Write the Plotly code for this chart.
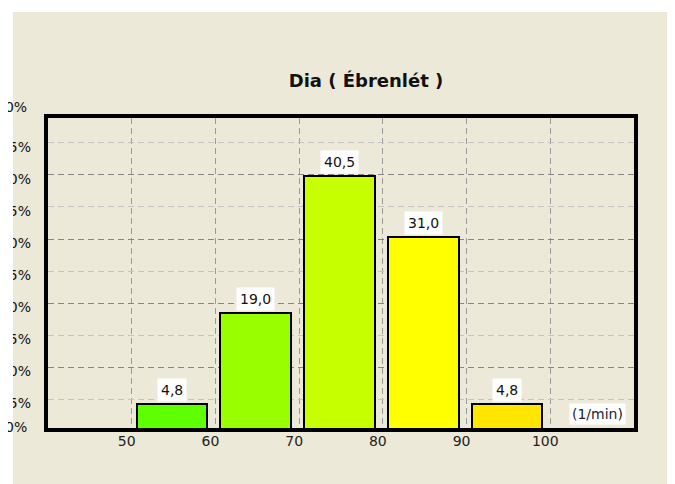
import plotly.graph_objects as go

# ---------------- data ----------------
bin_starts = [50, 60, 70, 80, 90]
percent_values = [4.8, 19.0, 40.5, 31.0, 4.8]
value_labels = ["4,8", "19,0", "40,5", "31,0", "4,8"]
bar_colors = ["#5EFF00", "#99FF00", "#C6FF00", "#FFFF00", "#FFE500"]
x_tick_values = [50, 60, 70, 80, 90, 100]
y_tick_values = [0, 5, 10, 15, 20, 25, 30, 35, 40, 45, 50]
y_tick_labels = ["0%", "5%", "10%", "15%", "20%", "25%", "30%", "35%", "40%", "45%", "50%"]
y_major_values = [10, 20, 30, 40]
title_text = "Dia ( Ébrenlét )"
x_unit_label = "(1/min)"

# ---------------- geometry / style ----------------
OFF = 8  # default page margin around the figure
W, H = 675 - OFF, 484 - OFF
# plot area in page pixels: x 48..634, y 118..428
L, R, T, B = 48 - OFF, W - (634 - OFF), 118 - OFF, H - (428 - OFF)
PW, PH = W - L - R, H - T - B
BG = "#ECE9D8"
FONT = "DejaVu Sans"
bar_offset = 0.6
bar_width = 8.45

bar_range = [1.02, 49.6]
grid_range = [0.51, 48.88]
in_range = [v for v in y_tick_values if grid_range[0] <= v <= grid_range[1]]


def px_x(p):
    """page pixel x -> paper coordinate"""
    return (p - OFF - L) / PW


def px_y(p):
    """page pixel y -> paper coordinate"""
    return (H - B - (p - OFF)) / PH


fig = go.Figure()
fig.add_trace(go.Bar(
    x=bin_starts, y=percent_values,
    offset=bar_offset, width=bar_width,
    marker=dict(color=bar_colors, line=dict(color="black", width=2)),
    hoverinfo="skip", showlegend=False,
))
# empty traces so the overlay grid axes are built
fig.add_trace(go.Scatter(x=[], y=[], yaxis="y2", showlegend=False))
fig.add_trace(go.Scatter(x=[], y=[], yaxis="y3", showlegend=False))

annotations = []
for xs, v, lab in zip(bin_starts, percent_values, value_labels):
    annotations.append(dict(
        x=xs + bar_offset + bar_width / 2, y=v, xref="x", yref="y",
        text=lab, showarrow=False, yanchor="bottom", yshift=2,
        bgcolor="white", borderpad=3,
        font=dict(family=FONT, size=14, color="#111"),
    ))
# y labels that fall outside the visible grid range (placed via the grid scale)
for v, lab in zip(y_tick_values, y_tick_labels):
    if v not in in_range:
        annotations.append(dict(
            x=0, y=(v - grid_range[0]) / (grid_range[1] - grid_range[0]),
            xref="paper", yref="paper", text=lab, showarrow=False,
            xanchor="right", yanchor="middle", xshift=-19, yshift=4,
            font=dict(family=FONT, size=14, color="#111"),
        ))
annotations.append(dict(
    x=1, y=0, xref="paper", yref="paper", text=x_unit_label, showarrow=False,
    xanchor="right", yanchor="bottom", xshift=-8, yshift=3,
    bgcolor="white", borderpad=2,
    font=dict(family=FONT, size=14, color="#223"),
))

shapes = [
    # white borders of the cropped screenshot
    dict(type="rect", xref="paper", yref="paper", layer="above",
         x0=-1, x1=px_x(13), y0=-1, y1=2, fillcolor="white", line_width=0),
    dict(type="rect", xref="paper", yref="paper", layer="above",
         x0=-1, x1=2, y0=px_y(12), y1=2, fillcolor="white", line_width=0),
    dict(type="rect", xref="paper", yref="paper", layer="above",
         x0=px_x(670), x1=2, y0=-1, y1=2, fillcolor="white", line_width=0),
    dict(type="line", xref="paper", yref="paper", layer="above",
         x0=px_x(669.5), x1=px_x(669.5), y0=-1, y1=px_y(12),
         line=dict(color="#A8A8A8", width=1)),
]

fig.update_layout(
    width=W, height=H,
    margin=dict(l=L, r=R, t=T, b=B, pad=0, autoexpand=False),
    paper_bgcolor=BG, plot_bgcolor=BG,
    showlegend=False,
    title=dict(text=title_text, x=px_x(366), xref="paper", xanchor="center",
               y=1 - (81 - OFF) / H, yref="container", yanchor="middle",
               font=dict(family=FONT, size=18, color="#111", weight="bold")),
    xaxis=dict(range=[40, 110], tickvals=x_tick_values,
               ticktext=[str(v) for v in x_tick_values],
               showgrid=True, gridcolor="#9A9A9A", griddash="6px,4px", gridwidth=1,
               zeroline=False, showline=True, linecolor="black", linewidth=4,
               mirror=True, ticks="", ticklabelshift=-5, ticklabelstandoff=-3,
               automargin=False,
               tickfont=dict(family=FONT, size=14, color="#222")),
    yaxis=dict(range=bar_range, showgrid=False, zeroline=False,
               showticklabels=False, showline=True, linecolor="black",
               linewidth=4, mirror=True, ticks="", automargin=False),
    yaxis2=dict(range=grid_range, overlaying="y", side="left",
                tickvals=in_range,
                ticktext=[lab for v, lab in zip(y_tick_values, y_tick_labels) if v in in_range],
                showgrid=True, gridcolor="#C4C4C4", griddash="6px,4px", gridwidth=1,
                zeroline=False, showline=False, ticks="",
                ticklabelstandoff=16, ticklabelshift=4, automargin=False,
                tickfont=dict(family=FONT, size=14, color="#111")),
    yaxis3=dict(range=grid_range, overlaying="y", side="left",
                tickvals=y_major_values, showticklabels=False,
                showgrid=True, gridcolor="#858585", griddash="6px,4px", gridwidth=1,
                zeroline=False, showline=False, ticks="", automargin=False),
    annotations=annotations,
    shapes=shapes,
    bargap=0,
)

fig.write_html("out.html", config={"displayModeBar": False})
